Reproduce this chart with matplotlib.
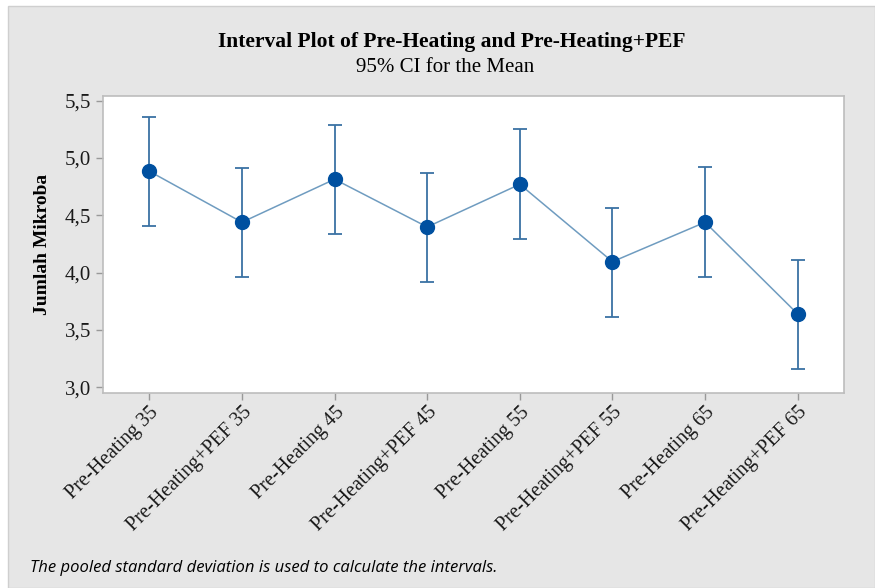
import matplotlib
matplotlib.use("Agg")
import matplotlib.pyplot as plt
from matplotlib.patches import Rectangle
from matplotlib.ticker import FuncFormatter

# Data
groups = [
    "Pre-Heating 35", "Pre-Heating+PEF 35", "Pre-Heating 45", "Pre-Heating+PEF 45",
    "Pre-Heating 55", "Pre-Heating+PEF 55", "Pre-Heating 65", "Pre-Heating+PEF 65",
]
means = [4.884, 4.439, 4.814, 4.398, 4.770, 4.095, 4.439, 3.639]
upper = [5.355, 4.910, 5.285, 4.866, 5.250, 4.566, 4.921, 4.113]
lower = [4.407, 3.962, 4.337, 3.918, 4.291, 3.615, 3.962, 3.156]
yticks = [3.0, 3.5, 4.0, 4.5, 5.0, 5.5]

BG = "#e6e6e6"
LINE = "#6f9cc0"
MARK = "#0050a0"
ERR = "#3a72a4"
SPINE = "#bdbdbd"
SERIF = "Liberation Serif"

fig = plt.figure(figsize=(8.75, 5.88), dpi=100)
fig.patch.set_facecolor("white")
fig.patches.append(Rectangle((8 / 875, 0), 1 - 8 / 875, 1 - 6 / 588,
                             transform=fig.transFigure, facecolor=BG,
                             edgecolor="#cfcfcf", linewidth=1, zorder=-10))

ax = fig.add_axes([103 / 875, 1 - 393 / 588, (844 - 103) / 875, (393 - 96) / 588])
ax.set_facecolor("white")

x = list(range(len(groups)))
yerr = [[m - lo for m, lo in zip(means, lower)], [up - m for m, up in zip(means, upper)]]
ax.errorbar(x, means, yerr=yerr, fmt="none", ecolor=ERR, elinewidth=1.3,
            capsize=5, capthick=1.3, zorder=2)
ax.plot(x, means, color=LINE, linewidth=1.1, zorder=3)
ax.plot(x, means, "o", color=MARK, markersize=10, zorder=4)

ax.set_xlim(-0.5, 7.5)
ax.set_ylim(2.95, 5.54)
ax.set_yticks(yticks)
ax.yaxis.set_major_formatter(FuncFormatter(lambda v, p: f"{v:.1f}".replace(".", ",")))
ax.set_xticks(x)
ax.set_xticklabels(groups, rotation=45, ha="right", rotation_mode="anchor",
                   family=SERIF, fontsize=14.5, color="#1a1a1a")
for lab in ax.get_yticklabels():
    lab.set_family(SERIF)
    lab.set_fontsize(15)
    lab.set_color("#1a1a1a")

ax.tick_params(axis="both", direction="out", length=5, color="#999999", width=1)
ax.tick_params(axis="x", pad=2)
for s in ax.spines.values():
    s.set_color(SPINE)
    s.set_linewidth(1.2)

ax.set_ylabel("Jumlah Mikroba", family=SERIF, fontsize=14, fontweight="bold", labelpad=10)

fig.text(452 / 875, 1 - 42 / 588, "Interval Plot of Pre-Heating and Pre-Heating+PEF",
         family=SERIF, fontsize=15.5, fontweight="bold", ha="center", va="center")
fig.text(445 / 875, 1 - 67 / 588, "95% CI for the Mean",
         family=SERIF, fontsize=15, ha="center", va="center")
fig.text(30 / 875, 1 - 568 / 588, "The pooled standard deviation is used to calculate the intervals.",
         family="Open Sans", fontsize=12, style="italic", ha="left", va="center")

fig.savefig("out.png", dpi=100)
